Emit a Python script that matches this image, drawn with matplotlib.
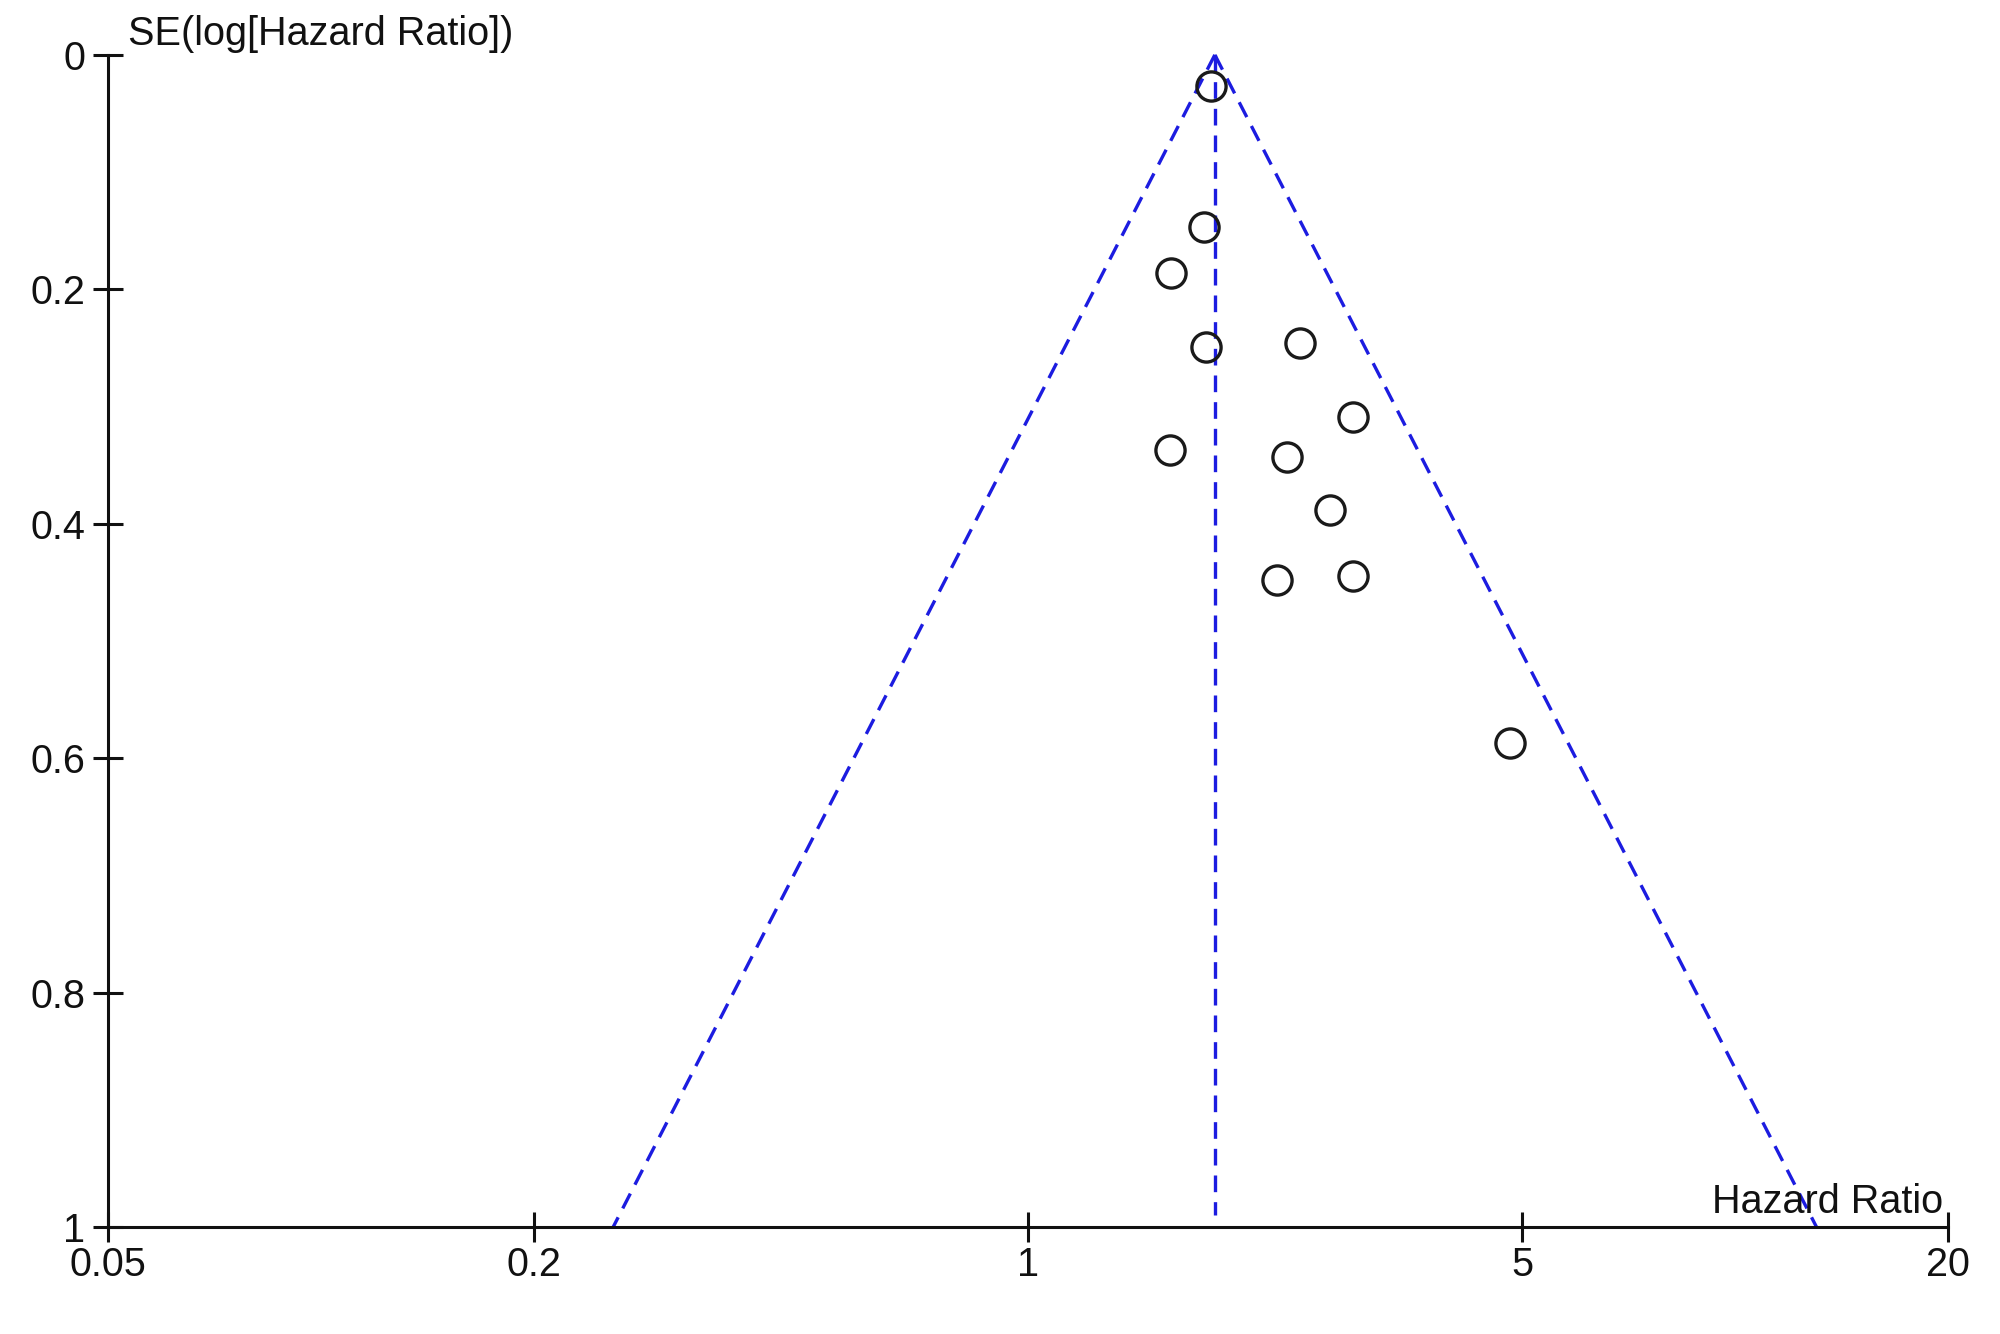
import matplotlib
matplotlib.use("Agg")
import matplotlib.pyplot as plt
import numpy as np
from matplotlib.ticker import FixedLocator, FixedFormatter, NullLocator

# ---- data ----
hazard_ratio = [1.814, 1.774, 1.591, 1.785, 2.424, 2.884, 1.587, 2.322, 2.673, 2.247, 2.884, 4.805]
se_log_hr    = [0.027, 0.147, 0.186, 0.249, 0.246, 0.309, 0.337, 0.343, 0.388, 0.448, 0.445, 0.587]
pooled_hr = 1.838
se_range = [0.0, 1.0]

x_ticks = [0.05, 0.2, 1, 5, 20]
x_tick_labels = ["0.05", "0.2", "1", "5", "20"]
y_ticks = [0, 0.2, 0.4, 0.6, 0.8, 1]
y_tick_labels = ["0", "0.2", "0.4", "0.6", "0.8", "1"]

plt.rcParams['font.family'] = ['Liberation Sans', 'DejaVu Sans']

fig = plt.figure(figsize=(20, 13.34), dpi=100)
ax = fig.add_axes([0.0542, 0.0802, 0.9196, 0.8787])

blue = '#1c1ce0'
dash = (5, 3)
lw_d = 2.4

# funnel lines
se_arr = np.array(se_range)
lower = np.exp(np.log(pooled_hr) - 1.96 * se_arr)
upper = np.exp(np.log(pooled_hr) + 1.96 * se_arr)
ax.plot(lower, se_arr, color=blue, lw=lw_d, dashes=dash, clip_on=False)
ax.plot(upper, se_arr, color=blue, lw=lw_d, dashes=dash, clip_on=False)
ax.plot([pooled_hr, pooled_hr], [0, 0.99], color=blue, lw=lw_d, dashes=dash, clip_on=False)

# studies
ax.plot(hazard_ratio, se_log_hr, linestyle='none', marker='o', markersize=21,
        markerfacecolor='none', markeredgecolor='#1a1a1a', markeredgewidth=2.4, clip_on=False)

ax.set_xscale('log')
ax.set_xlim(0.05, 20)
ax.set_ylim(1, 0)

ax.xaxis.set_major_locator(FixedLocator(x_ticks))
ax.xaxis.set_major_formatter(FixedFormatter(x_tick_labels))
ax.xaxis.set_minor_locator(NullLocator())
ax.yaxis.set_major_locator(FixedLocator(y_ticks))
ax.yaxis.set_major_formatter(FixedFormatter(y_tick_labels))

for s in ['top', 'right']:
    ax.spines[s].set_visible(False)
for s in ['left', 'bottom']:
    ax.spines[s].set_linewidth(2.2)
    ax.spines[s].set_color('#111111')

ax.tick_params(axis='both', direction='inout', length=21, width=2.2, color='#111111',
               labelsize=28.5, labelcolor='#111111')
ax.tick_params(axis='x', pad=3)
ax.tick_params(axis='y', pad=6)

ax.annotate("Hazard Ratio", xy=(1, 0), xycoords='axes fraction', xytext=(-3, 10),
            textcoords='offset points', ha='right', va='baseline', fontsize=28.5, color='#111111')
ax.annotate("SE(log[Hazard Ratio])", xy=(0, 1), xycoords='axes fraction', xytext=(14, 7),
            textcoords='offset points', ha='left', va='baseline', fontsize=28.5, color='#111111')

fig.savefig("out.png", dpi=100, facecolor='white')
